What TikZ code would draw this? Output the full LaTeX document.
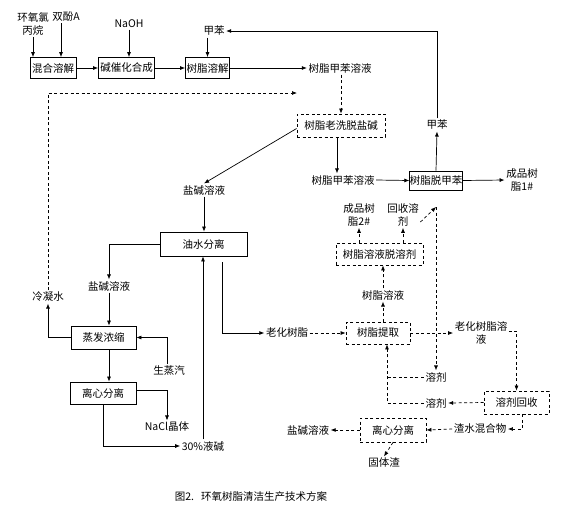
\documentclass[tikz,border=0pt]{standalone}
\usepackage{fontspec}
\setmainfont{Noto Sans CJK SC}
\usetikzlibrary{arrows.meta,calc}
\begin{document}
\begin{tikzpicture}[x=1pt,y=-1pt,
  font=\fontsize{10.5}{12.5}\selectfont,
  proc/.style={draw, line width=0.8pt, inner sep=0pt, minimum height=21},
  dbox/.style={proc, dash pattern=on 3pt off 2.5pt},
  lab/.style={inner sep=1.5pt, align=center},
  arr/.style={-{Latex[length=5pt,width=4pt]}, line width=0.7pt},
  darr/.style={arr, dash pattern=on 3pt off 2.5pt},
  dline/.style={line width=0.7pt, dash pattern=on 3pt off 2.5pt}]
\useasboundingbox (0,0) rectangle (563,515);
% process boxes
\node[proc, minimum width=46] (b1) at (53,68) {混合溶解};
\node[proc, minimum width=56] (b2) at (126.5,68) {碱催化合成};
\node[proc, minimum width=44] (b3) at (207.5,68) {树脂溶解};
\node[dbox, minimum width=88, minimum height=23] (b4) at (341,125.5) {树脂老洗脱盐碱};
\node[proc, minimum width=52, minimum height=19] (b5) at (436,180.5) {树脂脱甲苯};
\node[proc, minimum width=87, minimum height=24] (b6) at (203.5,244) {油水分离};
\node[proc, minimum width=65, minimum height=23] (b7) at (103.5,337.5) {蒸发浓缩};
\node[proc, minimum width=66, minimum height=22] (b8) at (103,393) {离心分离};
\node[dbox, minimum width=87, minimum height=22] (b9) at (379.5,254) {树脂溶液脱溶剂};
\node[dbox, minimum width=64, minimum height=22] (b10) at (378,333) {树脂提取};
\node[dbox, minimum width=65, minimum height=23] (b11) at (516.5,402.5) {溶剂回收};
\node[dbox, minimum width=66, minimum height=24] (b12) at (393,430) {离心分离};
% labels
\node[lab] (l1) at (33,24) {环氧氯\\丙烷};
\node[lab] (l2) at (66,17) {双酚A};
\node[lab] (l3) at (129,24) {NaOH};
\node[lab] (l4) at (214,31) {甲苯};
\node[lab] (l5) at (340,68) {树脂甲苯溶液};
\node[lab] (l6) at (204,190) {盐碱溶液};
\node[lab] (l7) at (48,297) {冷凝水};
\node[lab] (l8) at (109,286) {盐碱溶液};
\node[lab] (l9) at (169,371) {生蒸汽};
\node[lab] (l10) at (167,427) {NaCl晶体};
\node[lab] (l11) at (203,446) {30\%液碱};
\node[lab] (l12) at (287,333) {老化树脂};
\node[lab] (l13) at (343,180) {树脂甲苯溶液};
\node[lab] (l14) at (437,125) {甲苯};
\node[lab] (l15) at (522,180) {成品树\\脂1\#};
\node[lab] (l16) at (359,215) {成品树\\脂2\#};
\node[lab] (l17) at (403,215) {回收溶\\剂};
\node[lab] (l18) at (383,295) {树脂溶液};
\node[lab] (l19) at (481,333) {老化树脂溶\\液};
\node[lab] (l20) at (436,377) {溶剂};
\node[lab] (l21) at (436,403) {溶剂};
\node[lab] (l22) at (480,429) {渣水混合物};
\node[lab] (l23) at (308,430) {盐碱溶液};
\node[lab] (l24) at (384,463) {固体渣};
\node[lab] (cap) at (251,497) {图2.\hspace{7pt}环氧树脂清洁生产技术方案};
% coordinates
\coordinate (c1) at (222,262);
\coordinate (c2) at (436,207);
\coordinate (c3) at (297,93);
% solid connectors
\draw[arr] (l1.south) -- (l1.south |- b1.north);
\draw[arr] ([xshift=-5]l2.south) -- ([xshift=-5]l2.south |- b1.north);
\draw[arr] (l3.south) -- (l3.south |- b2.north);
\draw[arr] (b3.north |- l4.south) -- (b3.north);
\draw[arr] (b1) -- (b2);
\draw[arr] (b2) -- (b3);
\draw[arr] (b3.east) -- (l5.west);
\draw[arr] (l14.north) |- (l4.east);
\draw[arr] (b5.north) -- (l14.south);
\draw[arr] (b5.east) -- (l15.west);
\draw[arr] (l13.east) -- (b5.west);
\draw[arr] ([xshift=-4]b4.south) -- ([xshift=-4]b4.south |- l13.north);
\draw[arr] ([yshift=-3]b4.west) -- (l6.north);
\draw[arr] (l6.south) -- (l6.south |- b6.north);
\draw[arr] (b6.west) -| (l8.north);
\draw[arr] (l8.south) -- (l8.south |- b7.north);
\draw[arr] (b7.west) -| (l7.south);
\draw[arr] ([xshift=-2]l9.north) |- (b7.east);
\draw[arr] (b7.south -| l8) -- (b8.north -| l8);
\draw[arr] ([yshift=3]b8.east) -| (l10.north);
\draw[arr] (b8.south) |- (l11.west);
\draw[arr] (l11.north) -- (l11.north |- b6.south);
\draw[arr] (c1) |- (l12.west);
% dashed connectors
\draw[darr] (b4.north |- l5.south) -- (b4.north);
\draw[darr] (l7.north) |- (c3);
\draw[darr] (l12.east) -- (b10.west);
\draw[darr] (b10.east) -- (l19.west);
\draw[darr] ([yshift=2]l19.east) -| (b11.north);
\draw[darr] (b11.west) -- (l21.east);
\draw[darr] (l21.west) -| ([xshift=9]b10.south);
\draw[dline] (l20.west) -- ([xshift=9]b10.south |- l20.west);
\draw[darr] ([yshift=-7]l17.east) -- (c2);
\draw[darr] (c2) -- (l20.north);
\draw[darr] (b9.north -| l16) -- (l16.south);
\draw[darr] (b9.north -| l17) -- (l17.south);
\draw[darr] (b10.north -| l18) -- (l18.south);
\draw[darr] (l18.north) -- (l18.north |- b9.south);
\draw[darr] ([xshift=6]b11.south) |- (l22.east);
\draw[darr] (l22.west) -- (b12.east);
\draw[darr] (b12.west) -- (l23.east);
\draw[darr] (b12.south) -- (l24.north);
\end{tikzpicture}
\end{document}
